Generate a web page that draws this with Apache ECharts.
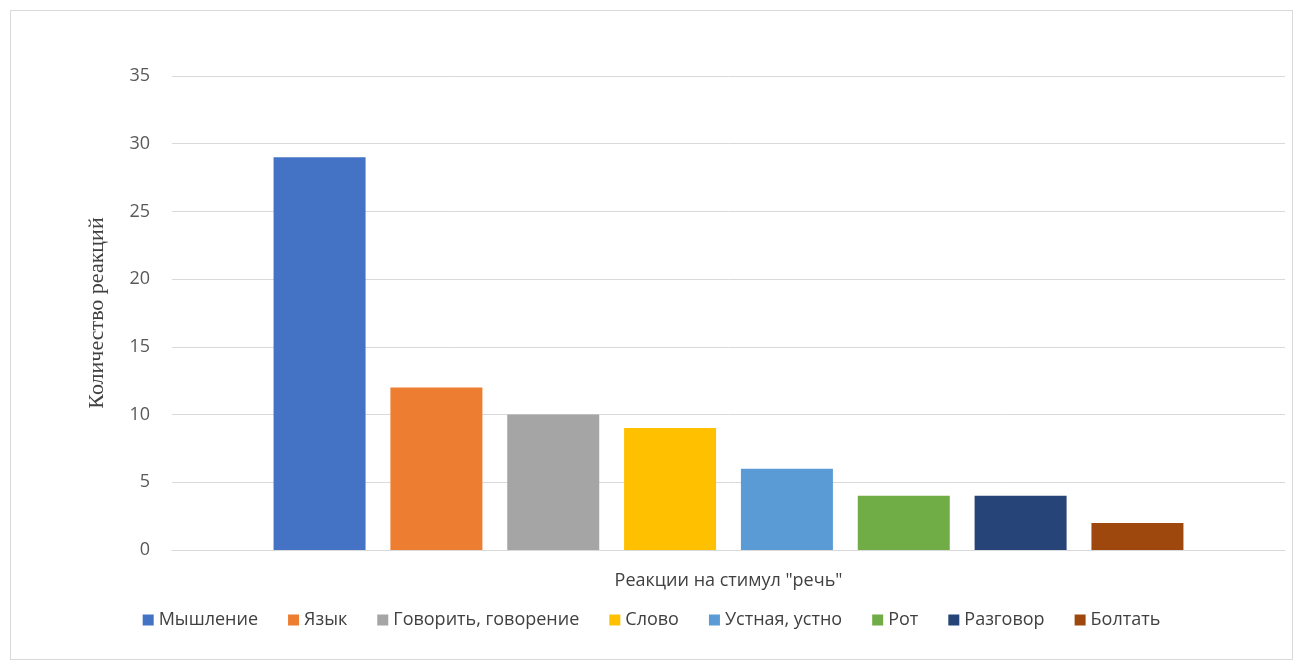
<!DOCTYPE html>
<html><head><meta charset="utf-8">
<script src="https://cdn.jsdelivr.net/npm/echarts@6/dist/echarts.min.js"></script>
<style>html,body{margin:0;padding:0;background:#fff}#c{width:1303px;height:670px}
#frame{position:absolute;left:10px;top:10px;width:1283px;height:650px;border:1px solid #d9d9d9;box-sizing:border-box;pointer-events:none}</style>
</head><body><div id="c"></div><div id="frame"></div>
<script>
const categories = ['Реакции на стимул "речь"'];
const seriesNames = ['Мышление','Язык','Говорить, говорение','Слово','Устная, устно','Рот','Разговор','Болтать'];
const seriesValues = [29,12,10,9,6,4,4,2];
const colors = ['#4472c4','#ed7d31','#a5a5a5','#ffc000','#5b9bd5','#70ad47','#264478','#9e480e'];
const yTicks = [0,5,10,15,20,25,30,35];
const chart = echarts.init(document.getElementById('c'));
chart.setOption({
  animation:false,
  color:colors,
  textStyle:{fontFamily:'Open Sans, Noto Sans, sans-serif'},
  grid:{left:172,right:18,top:76,bottom:120},
  legend:{bottom:36,left:'center',itemWidth:11,itemHeight:11,itemGap:30,icon:'rect',
    textStyle:{fontSize:18,color:'#404040'},data:seriesNames},
  xAxis:{type:'category',data:categories,
    axisLine:{lineStyle:{color:'#d9d9d9'}},axisTick:{show:false},
    axisLabel:{fontSize:18,color:'#404040',margin:22}},
  yAxis:{type:'value',min:yTicks[0],max:yTicks[yTicks.length-1],interval:5,
    name:'Количество реакций',nameLocation:'middle',nameGap:64,
    nameTextStyle:{fontFamily:'Liberation Serif, serif',fontSize:22,color:'#404040'},
    axisLine:{show:false},axisTick:{show:false},
    axisLabel:{fontSize:18,color:'#595959',margin:22},
    splitLine:{lineStyle:{color:'#d9d9d9'}}},
  series:seriesNames.map((n,i)=>({name:n,type:'bar',data:[seriesValues[i]],barWidth:92,barGap:'27%'}))
});
</script></body></html>
